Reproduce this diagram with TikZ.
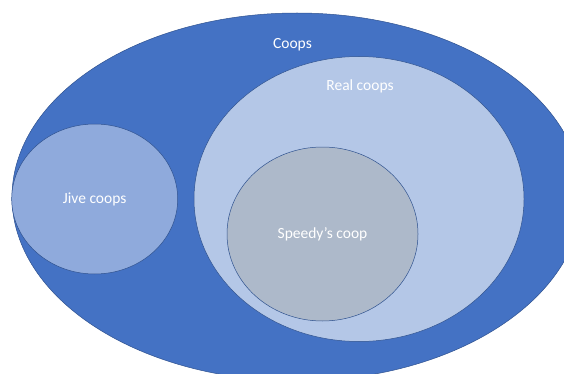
\documentclass[tikz,border=0pt]{standalone}
\usepackage{fontspec}
\setmainfont{Carlito}
\usetikzlibrary{positioning,shapes.geometric}
\usepackage{xcolor}
\definecolor{coopblue}{HTML}{4472C4}
\definecolor{realfill}{HTML}{B4C7E7}
\definecolor{jivefill}{HTML}{8FAADC}
\definecolor{speedyfill}{HTML}{ADB9CA}
\definecolor{edgeblue}{HTML}{2F528F}
\tikzset{
  setbox/.style={ellipse,draw=edgeblue,line width=0.5pt,inner sep=0pt,align=center,text=white,font=\fontsize{15.5}{18}\selectfont},
  coopset/.style={setbox,fill=coopblue},
  realset/.style={setbox,fill=realfill},
  jiveset/.style={setbox,fill=jivefill},
  speedyset/.style={setbox,fill=speedyfill},
  setlabel/.style={text=white,inner sep=0pt,font=\fontsize{15.5}{18}\selectfont}
}
\begin{document}
\begin{tikzpicture}[x=1pt,y=1pt]
  \useasboundingbox (0,0) rectangle (564,373);
  \clip (0,0) rectangle (564,373);
  % outer set runs past the right and bottom edges
  \node[coopset,minimum width=570pt,minimum height=368pt] (coops) at (297,176) {};
  \node[realset,minimum width=330pt,minimum height=285pt] (real) at (359,174) {};
  \node[jiveset,minimum width=166pt,minimum height=150pt] (jive) at (94.7,174) {Jive coops};
  \node[speedyset,minimum width=191pt,minimum height=174pt] (speedy) at (322.5,139) {Speedy’s coop};
  \node[setlabel] (coopstext) at (292.5,328.5) {Coops};
  \node[setlabel] (realtext) at (360,286.5) {Real coops};
\end{tikzpicture}
\end{document}
